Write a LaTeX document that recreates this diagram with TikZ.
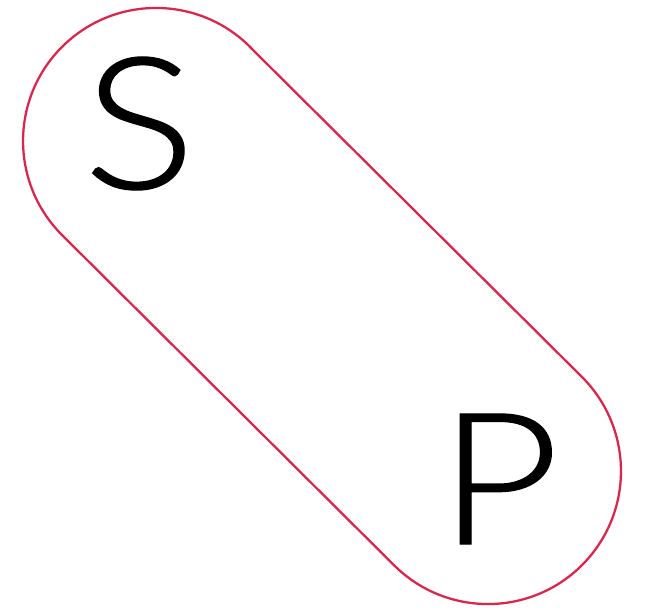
\documentclass[tikz,border=0pt]{standalone}
\usepackage{fontspec}
\newfontfamily\letterfont{Lato-Light}[Extension=.ttf,FakeStretch=1.14,FakeBold=0.7]
\definecolor{capsulered}{RGB}{222,36,74}
\tikzset{every picture/.style={line width=0.75pt}}
\tikzset{
letter/.style={anchor=center,inner sep=0pt,font=\letterfont\fontsize{138}{138}\selectfont}}

\begin{document}
\begin{tikzpicture}[x=0.75pt,y=0.75pt,yscale=-1,xscale=1]
\useasboundingbox (0,0) rectangle (646,611);

%Shape: Capsule [id:capsule]
\draw [color=capsulered ,draw opacity=1 ][line width=1.7]  (250,47) -- (582,377) arc [start angle=-45, end angle=135, radius=133] -- (62,235) arc [start angle=135, end angle=315, radius=133] -- cycle ;

% Text Node
\node [letter] (s) at (139.5,123.5) {S};
% Text Node
\node [letter] (p) at (499,479) {P};

\end{tikzpicture}
\end{document}
